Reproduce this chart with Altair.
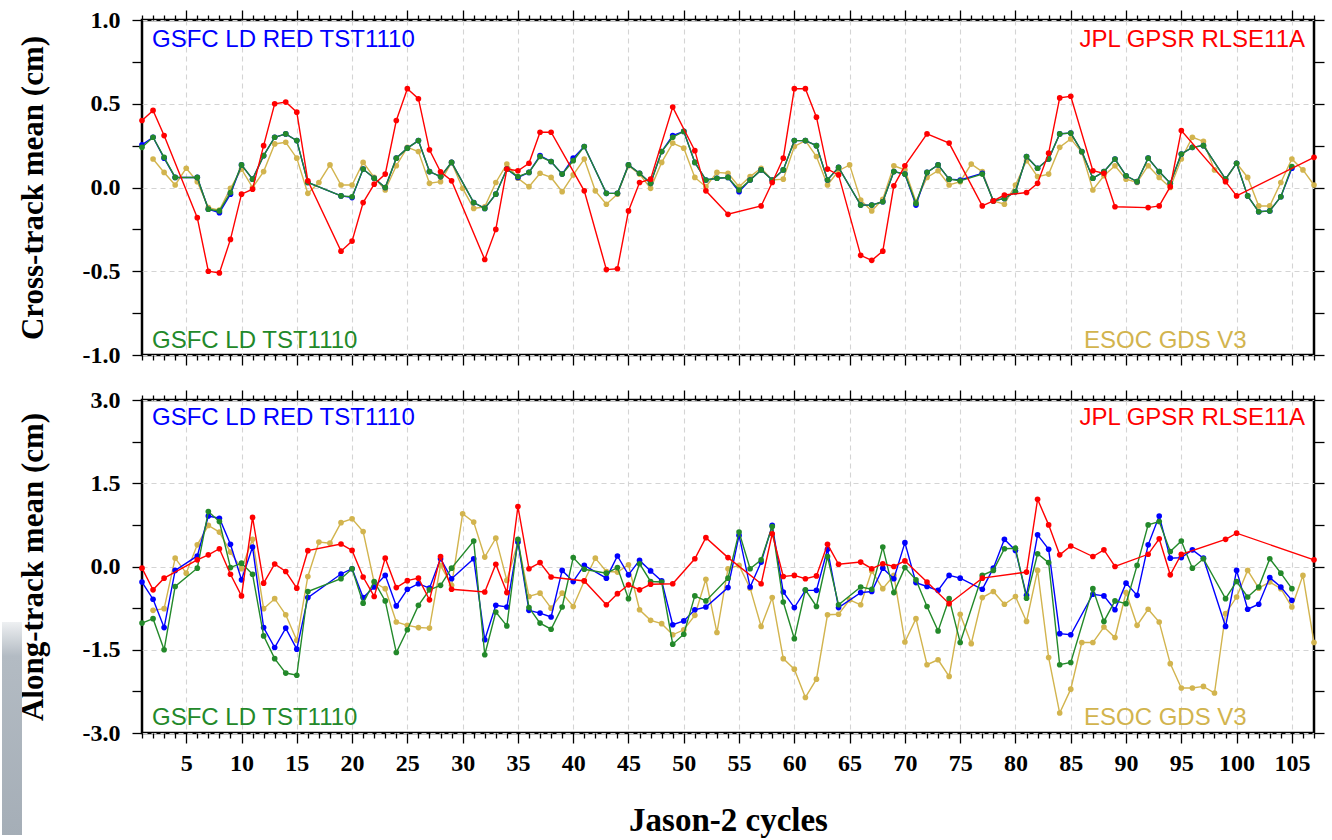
import altair as alt
import pandas as pd

N = None
cycles = list(range(1, 108))

# ---------------- Cross-track mean (cm) ----------------
top_red = [0.40, 0.46, 0.31, N, N, -0.18, -0.50, -0.51, -0.31, -0.04,
           -0.01, 0.25, 0.50, 0.51, 0.45, 0.04, N, N, -0.38, -0.32,
           -0.09, 0.02, 0.08, 0.40, 0.59, 0.53, 0.225, 0.094, 0.04, N,
           N, -0.43, -0.25, 0.11, 0.10, 0.145, 0.33, 0.33, N, N,
           -0.02, N, -0.49, -0.485, -0.14, 0.03, 0.05, N, 0.48, N,
           0.22, -0.02, N, -0.16, N, N, -0.11, 0.03, 0.175, 0.59,
           0.59, 0.42, 0.11, 0.075, N, -0.405, -0.435, -0.38, 0.01, 0.13,
           N, 0.32, N, 0.265, N, N, -0.11, -0.08, -0.045, N,
           -0.03, 0.025, 0.205, 0.535, 0.545, N, 0.10, 0.085, -0.115, N,
           N, -0.12, -0.11, 0.005, 0.34, N, N, N, 0.035, -0.05,
           N, N, N, N, N, N, 0.18]
top_green = [0.24, 0.30, 0.18, 0.06, N, 0.06, -0.13, -0.14, -0.03, 0.135,
             0.05, 0.19, 0.30, 0.32, 0.28, 0.03, N, N, -0.05, -0.055,
             0.11, 0.055, 0.0, 0.175, 0.235, 0.28, 0.095, 0.065, 0.15, N,
             -0.09, -0.125, -0.04, 0.11, 0.065, 0.09, 0.185, 0.155, 0.08, 0.16,
             0.245, N, -0.035, -0.035, 0.135, 0.085, 0.025, 0.215, 0.30, 0.335,
             0.15, 0.045, 0.055, 0.06, -0.015, 0.045, 0.105, 0.045, 0.105, 0.28,
             0.28, 0.25, 0.045, 0.12, N, -0.105, -0.105, -0.085, 0.095, 0.08,
             -0.095, 0.09, 0.135, 0.05, 0.04, N, 0.08, -0.08, -0.065, -0.025,
             0.185, 0.115, 0.17, 0.32, 0.325, 0.215, 0.055, 0.095, 0.17, 0.07,
             0.035, 0.175, 0.095, 0.025, 0.20, 0.24, 0.25, N, 0.05, 0.145,
             -0.05, -0.145, -0.14, -0.055, 0.125, N, N]
top_blue = [0.255, 0.30, 0.175, 0.06, N, 0.06, -0.13, -0.15, -0.04, 0.135,
            0.05, 0.19, 0.30, 0.32, 0.28, 0.03, N, N, -0.05, -0.06,
            0.11, 0.055, 0.0, 0.175, 0.235, 0.28, 0.095, 0.065, 0.15, N,
            -0.09, -0.125, -0.04, 0.11, 0.06, 0.09, 0.19, 0.155, 0.08, 0.175,
            0.245, N, -0.035, -0.035, 0.135, 0.085, 0.025, 0.215, 0.31, 0.335,
            0.15, 0.045, 0.055, 0.06, -0.025, 0.045, 0.105, 0.045, 0.105, 0.28,
            0.28, 0.25, 0.045, 0.12, N, -0.105, -0.105, -0.085, 0.095, 0.08,
            -0.105, 0.09, 0.135, 0.05, 0.045, N, 0.085, -0.08, -0.065, -0.025,
            0.185, 0.115, 0.17, 0.32, 0.325, 0.215, 0.055, 0.095, 0.17, 0.07,
            0.035, 0.175, 0.095, 0.025, 0.20, 0.24, 0.25, N, 0.05, 0.145,
            -0.05, -0.145, -0.14, -0.055, 0.115, N, N]
top_gold = [N, 0.17, 0.09, 0.015, 0.115, 0.035, -0.12, -0.135, -0.005, 0.11,
            0.0, 0.095, 0.26, 0.27, 0.175, -0.035, 0.03, 0.135, 0.015, 0.015,
            0.15, 0.06, -0.015, 0.13, 0.24, 0.215, 0.025, 0.035, 0.15, -0.005,
            -0.125, -0.115, 0.03, 0.14, 0.055, 0.005, 0.085, 0.06, -0.025, 0.075,
            0.17, -0.02, -0.10, -0.04, 0.13, 0.08, -0.005, 0.15, 0.265, 0.235,
            0.06, 0.005, 0.09, 0.085, 0.005, 0.065, 0.115, 0.045, 0.05, 0.245,
            0.28, 0.185, 0.015, 0.10, 0.135, -0.075, -0.14, -0.07, 0.13, 0.105,
            -0.085, 0.06, 0.10, 0.015, 0.035, 0.14, 0.095, -0.08, -0.10, 0.015,
            0.16, 0.065, 0.08, 0.24, 0.29, 0.21, -0.015, 0.07, 0.13, 0.05,
            0.03, 0.13, 0.06, 0.0, 0.17, 0.30, 0.275, 0.105, 0.045, 0.145,
            0.06, -0.11, -0.11, 0.03, 0.17, 0.105, 0.015]

# ---------------- Along-track mean (cm) ----------------
bot_red = [-0.03, -0.42, -0.21, N, N, 0.12, 0.21, 0.32, -0.14, -0.53,
           0.885, -0.30, 0.045, -0.09, -0.39, 0.285, N, N, 0.405, 0.29,
           -0.19, -0.54, 0.15, -0.38, -0.255, -0.21, -0.60, 0.18, -0.41, N,
           N, -0.46, 0.04, -0.47, 1.08, -0.04, 0.07, -0.19, N, N,
           -0.26, N, -0.69, -0.49, -0.33, -0.42, -0.32, N, -0.31, N,
           0.14, 0.52, N, 0.16, N, N, -0.31, 0.59, -0.18, -0.16,
           -0.22, -0.17, 0.40, 0.04, N, 0.08, -0.04, 0.05, 0.0, 0.10,
           N, -0.28, N, -0.67, N, N, -0.21, N, N, N,
           -0.10, 1.21, 0.75, 0.21, 0.37, N, 0.18, 0.30, 0.0, N,
           N, 0.22, 0.50, -0.15, 0.22, N, N, N, 0.49, 0.60,
           N, N, N, N, N, N, 0.12]
bot_blue = [-0.28, -0.59, -1.10, -0.07, N, 0.19, 0.91, 0.87, 0.40, -0.24,
            0.35, -1.10, -1.46, -1.11, -1.49, -0.56, N, N, -0.135, -0.04,
            -0.56, -0.37, -0.16, -0.71, -0.41, -0.31, -0.39, 0.14, -0.22, N,
            0.14, -1.32, -0.70, -0.73, 0.44, -0.79, -0.84, -0.91, -0.07, -0.27,
            0.02, N, -0.21, 0.19, -0.15, 0.11, -0.08, -0.26, -1.05, -0.98,
            -0.78, -0.73, N, -0.38, 0.56, -0.37, 0.08, 0.74, -0.46, -0.74,
            -0.43, -0.43, 0.31, -0.74, N, -0.47, -0.45, -0.03, -0.22, 0.43,
            -0.29, -0.36, -0.43, -0.16, -0.21, N, -0.41, -0.03, 0.49, 0.29,
            -0.52, 0.57, 0.31, -1.21, -1.23, N, -0.50, -0.53, -0.78, -0.30,
            -0.52, 0.39, 0.91, 0.15, 0.16, 0.30, 0.15, N, -1.08, -0.07,
            -0.77, -0.68, -0.20, -0.37, -0.61, N, N]
bot_green = [-1.02, -0.94, -1.50, -0.36, N, -0.03, 0.99, 0.81, -0.02, 0.06,
             -0.14, -1.25, -1.66, -1.92, -1.96, -0.45, N, N, -0.22, -0.04,
             -0.66, -0.27, -0.62, -1.55, -1.14, -0.70, -0.42, -0.34, -0.03, N,
             0.46, -1.59, -0.82, -1.07, 0.49, -0.74, -1.02, -1.13, -0.73, 0.16,
             -0.05, N, -0.12, -0.02, -0.58, 0.05, -0.27, -0.28, -1.40, -1.22,
             -0.53, -0.62, N, -0.21, 0.62, -0.04, 0.12, 0.72, -0.64, -1.30,
             -0.42, -0.72, 0.18, -0.69, N, -0.37, -0.41, 0.35, -0.47, -0.02,
             -0.24, -0.72, -1.16, -0.58, -1.37, N, -0.16, -0.07, 0.32, 0.33,
             -0.57, 0.23, 0.07, -1.77, -1.73, N, -0.40, -0.99, -0.62, -0.67,
             0.02, 0.75, 0.81, 0.27, 0.46, -0.03, 0.14, N, -0.58, -0.27,
             -0.55, -0.37, 0.14, -0.12, -0.40, N, N]
bot_gold = [N, -0.79, -0.76, 0.15, -0.12, 0.39, 0.74, 0.62, 0.26, -0.04,
            0.49, -0.76, -0.58, -0.87, -1.33, -0.18, 0.44, 0.42, 0.79, 0.86,
            0.63, -0.29, -0.40, -1.00, -1.06, -1.10, -1.11, 0.02, -0.34, 0.95,
            0.80, 0.17, 0.51, -0.25, 0.44, -0.54, -0.48, -0.75, -0.48, -0.72,
            -0.26, 0.15, -0.09, -0.10, 0.03, -0.78, -0.97, -1.03, -1.23, -1.14,
            -0.88, -0.23, -1.19, -0.04, 0.02, -0.39, -1.08, -0.56, -1.66, -1.85,
            -2.36, -2.03, -0.87, -0.86, -0.60, -0.69, -0.08, -0.40, -0.16, -1.36,
            -0.94, -1.77, -1.68, -1.98, -0.86, -1.39, -0.56, -0.45, -0.68, -0.54,
            -0.99, -0.07, -1.64, -2.64, -2.21, -1.37, -1.37, -1.09, -1.28, -0.47,
            -1.06, -0.77, -1.00, -1.75, -2.19, -2.19, -2.16, -2.28, -0.85, -0.55,
            -0.07, -0.39, -0.28, -0.40, -0.73, -0.16, -1.37]

series_names = ["ESOC GDS V3", "GSFC LD RED TST1110", "GSFC LD TST1110", "JPL GPSR RLSE11A"]
series_colors = ["#D2B44E", "#0000FF", "#23892A", "#FF0000"]

x_ticks = list(range(1, 108))
top_ticks = [-1.0 + 0.25 * i for i in range(9)]
bot_ticks = [-3.0 + 0.75 * i for i in range(9)]

SERIF = "Liberation Serif"
SANS = "Liberation Sans"
W = 1172


def frame(vals):
    return pd.DataFrame({"cycle": cycles, "value": vals}).dropna()


def x_axis(orient, labels, title):
    maj = "datum.value % 5 == 0"
    kw = dict(orient=orient, values=x_ticks, labels=labels, domain=False,
              tickColor="black", tickWidth=1.3,
              tickSize={"expr": f"{maj} ? 10 : 5"},
              labelExpr=f"{maj} ? datum.label : ''", labelOverlap=False,
              labelFont=SERIF, labelFontWeight="bold", labelFontSize=24,
              labelColor="black", labelPadding=8, labelFlush=False,
              grid=(orient == "bottom"))
    if orient == "bottom":
        kw.update(gridDash=[5, 4], gridColor="#d4d4d4", gridWidth=1.1,
                  gridOpacity={"expr": f"{maj} ? 1 : 0"})
    if title:
        kw.update(title=title, titleFont=SERIF, titleFontWeight="bold",
                  titleFontSize=33, titleColor="black", titlePadding=29)
    else:
        kw.update(title=None)
    return alt.Axis(**kw)


def y_axis(orient, vals, step, labels, title):
    maj = f"abs(datum.value) % {step} == 0"
    kw = dict(orient=orient, values=vals, labels=labels, domain=False,
              tickColor="black", tickWidth=1.3, tickSize=10,
              format=".1f",
              labelExpr=f"{maj} ? replace(datum.label, '\u2212', '-') : ''",
              labelOverlap=False, labelFlush=False,
              labelFont=SERIF, labelFontWeight="bold", labelFontSize=24,
              labelColor="black", labelPadding=12,
              grid=(orient == "left"))
    if orient == "left":
        kw.update(gridDash=[5, 4], gridColor="#d4d4d4", gridWidth=1.1,
                  gridOpacity={"expr": f"{maj} ? 1 : 0"})
    if title:
        kw.update(title=title, titleFont=SERIF, titleFontWeight="bold",
                  titleFontSize=31, titleColor="black", titlePadding=33)
    else:
        kw.update(title=None)
    return alt.Axis(**kw)


def panel(data, ydom, yvals, ystep, ytitle, xlabels, height, ty_top, ty_bot, strip):
    xs = alt.Scale(domain=[1, 107], nice=False, zero=False)
    ys = alt.Scale(domain=ydom, nice=False, zero=False)
    corners = pd.DataFrame({"cycle": [1, 107], "value": ydom})
    axes_a = alt.Chart(corners).mark_point(opacity=0).encode(
        x=alt.X("cycle:Q", scale=xs,
                axis=x_axis("bottom", xlabels, "Jason-2 cycles" if xlabels else None)),
        y=alt.Y("value:Q", scale=ys, axis=y_axis("left", yvals, ystep, True, ytitle)),
    )
    axes_b = alt.Chart(corners).mark_point(opacity=0).encode(
        x=alt.X("cycle:Q", scale=xs, axis=x_axis("top", False, None)),
        y=alt.Y("value:Q", scale=ys, axis=y_axis("right", yvals, ystep, False, None)),
    )
    layers = [axes_a, axes_b]
    # page-edge strip (grey slide fragment at the bottom-left of the picture)
    if strip:
        fill = alt.Gradient(gradient="linear", x1=0, x2=0, y1=0, y2=1, stops=[
            alt.GradientStop(color="#eef0f2", offset=0),
            alt.GradientStop(color="#b3bbc3", offset=0.16),
            alt.GradientStop(color="#a5aeb7", offset=1)])
        layers.append(alt.Chart(corners.head(1)).mark_rect(fill=fill).encode(
            x=alt.value(-140), x2=alt.value(-120), y=alt.value(222), y2=alt.value(435)))
    else:
        layers.append(alt.Chart(corners.head(1)).mark_rect(fill="white", opacity=0).encode(
            x=alt.value(-140), x2=alt.value(-120), y=alt.value(100), y2=alt.value(200)))
    for vals, color in zip(data, series_colors):
        df = frame(vals)
        enc = dict(x=alt.X("cycle:Q", scale=xs, axis=None),
                   y=alt.Y("value:Q", scale=ys, axis=None))
        layers.append(alt.Chart(df).mark_line(color=color, strokeWidth=1.4).encode(**enc))
        layers.append(alt.Chart(df).mark_circle(color=color, size=32, opacity=1).encode(**enc))
    # series labels
    specs = [
        (series_names[1], series_colors[1], 10, ty_top, "left"),
        (series_names[3], series_colors[3], W - 9, ty_top, "right"),
        (series_names[2], series_colors[2], 10, ty_bot, "left"),
        (series_names[0], series_colors[0], 942, ty_bot, "left"),
    ]
    for name, color, px, py, al in specs:
        layers.append(
            alt.Chart(pd.DataFrame({"t": [name]})).mark_text(
                font=SANS, fontSize=24, color=color, align=al, baseline="alphabetic"
            ).encode(text="t:N", x=alt.value(px), y=alt.value(py))
        )
    return alt.layer(*layers).resolve_axis(x="independent", y="independent").properties(
        width=W, height=height)


top = panel([top_gold, top_blue, top_green, top_red], [-1.0, 1.0], top_ticks, 0.5,
            "Cross-track mean (cm)", False, 335, 27, 328, False)
bottom = panel([bot_gold, bot_blue, bot_green, bot_red], [-3.0, 3.0], bot_ticks, 1.5,
               "Along-track mean (cm)", True, 333, 25, 325, True)

chart = alt.vconcat(top, bottom, spacing=17).properties(
    padding={"left": 0, "top": 6, "right": 4, "bottom": 0},
    background="white",
).configure_view(stroke="black", strokeWidth=2.5)

chart.save("out.html", embed_options={"renderer": "svg", "actions": False})
